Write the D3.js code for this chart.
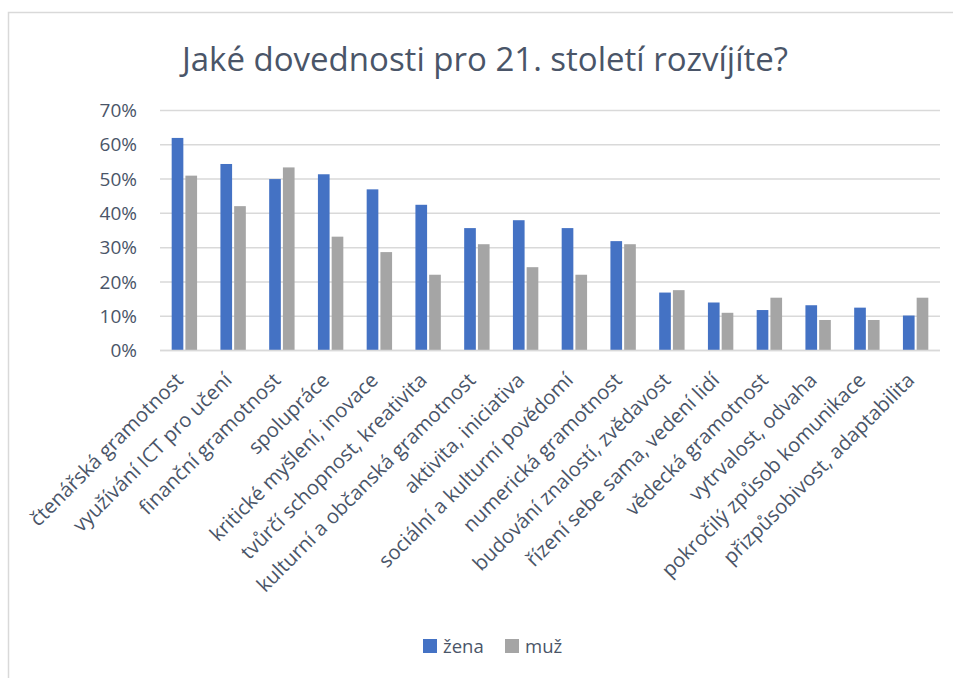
<!DOCTYPE html>
<html>
<head>
<meta charset="utf-8">
<script src="https://cdn.jsdelivr.net/npm/d3@7"></script>
<style>
  body { margin: 0; background: #fff; }
  text { font-family: "Open Sans", Lato, sans-serif; fill: #4a5568; }
</style>
</head>
<body>
<div class="chart"></div>
<script>
const categories = ["čtenářská gramotnost", "využívání ICT pro učení", "finanční gramotnost", "spolupráce",
    "kritické myšlení, inovace", "tvůrčí schopnost, kreativita", "kulturní a občanská gramotnost",
    "aktivita, iniciativa", "sociální a kulturní povědomí", "numerická gramotnost",
    "budování znalostí, zvědavost", "řízení sebe sama, vedení lidí", "vědecká gramotnost",
    "vytrvalost, odvaha", "pokročilý způsob komunikace", "přizpůsobivost, adaptabilita"];
const series = ["žena", "muž"];
const zena = [0.62, 0.544, 0.50, 0.514, 0.47, 0.425, 0.357, 0.38, 0.357, 0.319, 0.169, 0.14, 0.118, 0.132, 0.125, 0.102];
const muz = [0.51, 0.421, 0.534, 0.332, 0.287, 0.221, 0.31, 0.243, 0.221, 0.31, 0.176, 0.11, 0.154, 0.089, 0.089, 0.154];
const yTicks = [0, 0.1, 0.2, 0.3, 0.4, 0.5, 0.6, 0.7];
const colors = ["#4472C4", "#A5A5A5"];

const svgWidth = 953;
const svgHeight = 678;

let svg = d3.select(".chart")
    .append("svg")
    .attr("width", svgWidth)
    .attr("height", svgHeight)

// chart frame (only top and left edges are visible in the crop)
svg.append("path")
    .attr("d", `M8.5,${svgHeight} V12.5 H${svgWidth}`)
    .attr("fill", "none")
    .attr("stroke", "#d9d9d9")
    .attr("stroke-width", 1.5)

svg.append("text")
    .attr("x", 485)
    .attr("y", 71)
    .attr("text-anchor", "middle")
    .style("font-size", "33px")
    .text("Jaké dovednosti pro 21. století rozvíjíte?")

let xScale = d3.scaleBand()
    .domain(categories)
    .range([160, 940])

let x1 = d3.scaleBand()
    .domain(series)
    .range([-12.7, 12.7])
    .paddingInner(0.15)

let yScale = d3.scaleLinear()
    .domain([0, 0.7])
    .range([350.5, 110.5])

// gridlines
svg.append("g")
    .selectAll("line")
    .data(yTicks)
    .enter()
    .append("line")
    .attr("x1", 160)
    .attr("x2", 940)
    .attr("y1", d => yScale(d))
    .attr("y2", d => yScale(d))
    .attr("stroke", "#d9d9d9")
    .attr("stroke-width", 1.5)

let yAxis = d3.axisLeft()
    .scale(yScale)
    .tickValues(yTicks)
    .tickFormat(d3.format(".0%"))
    .tickSize(0)
    .tickPadding(0)

let yAxisGroup = svg.append("g")
    .attr("transform", `translate(137, 0)`)
    .call(yAxis)
yAxisGroup.select(".domain").remove()
yAxisGroup.selectAll("text")
    .style("font-size", "19px")
    .style("font-family", "'Open Sans', sans-serif")
    .style("fill", "#4a5568")

const rows = categories.map((c, i) => ({cat: c, values: [zena[i], muz[i]]}));

let groups = svg.selectAll(".cat")
    .data(rows)
    .enter()
    .append("g")
    .attr("transform", d => `translate(${xScale(d.cat) + xScale.bandwidth() / 2}, 0)`)

groups.selectAll("rect")
    .data(d => d.values.map((v, j) => ({s: series[j], v: v, j: j})))
    .enter()
    .append("rect")
    .attr("x", d => x1(d.s))
    .attr("width", x1.bandwidth())
    .attr("y", d => yScale(d.v))
    .attr("height", d => yScale(0) - yScale(d.v))
    .style("fill", d => colors[d.j])

// baseline
svg.append("line")
    .attr("x1", 160)
    .attr("x2", 940)
    .attr("y1", yScale(0))
    .attr("y2", yScale(0))
    .attr("stroke", "#d9d9d9")
    .attr("stroke-width", 1.5)

let xAxis = d3.axisBottom()
    .scale(xScale)
    .tickSize(0)
    .tickPadding(0)

let xAxisGroup = svg.append("g")
    .attr("transform", `translate(0, ${yScale(0)})`)
    .call(xAxis)
xAxisGroup.select(".domain").remove()
xAxisGroup.selectAll("text")
    .attr("text-anchor", "end")
    .attr("dy", null)
    .attr("y", 0)
    .attr("transform", "translate(0, 31) rotate(-45)")
    .style("font-size", "20.2px")
    .style("font-family", "'Open Sans', sans-serif")
    .style("fill", "#4a5568")

// legend
let legend = svg.append("g")
    .attr("transform", `translate(423, 639)`)

let legendItems = legend.selectAll("g")
    .data(series)
    .enter()
    .append("g")
    .attr("transform", (d, i) => `translate(${i * 82}, 0)`)

legendItems.append("rect")
    .attr("width", 14)
    .attr("height", 14)
    .style("fill", (d, i) => colors[i])

legendItems.append("text")
    .attr("x", 20)
    .attr("y", 14)
    .style("font-size", "18.5px")
    .text(d => d)
</script>
</body>
</html>
